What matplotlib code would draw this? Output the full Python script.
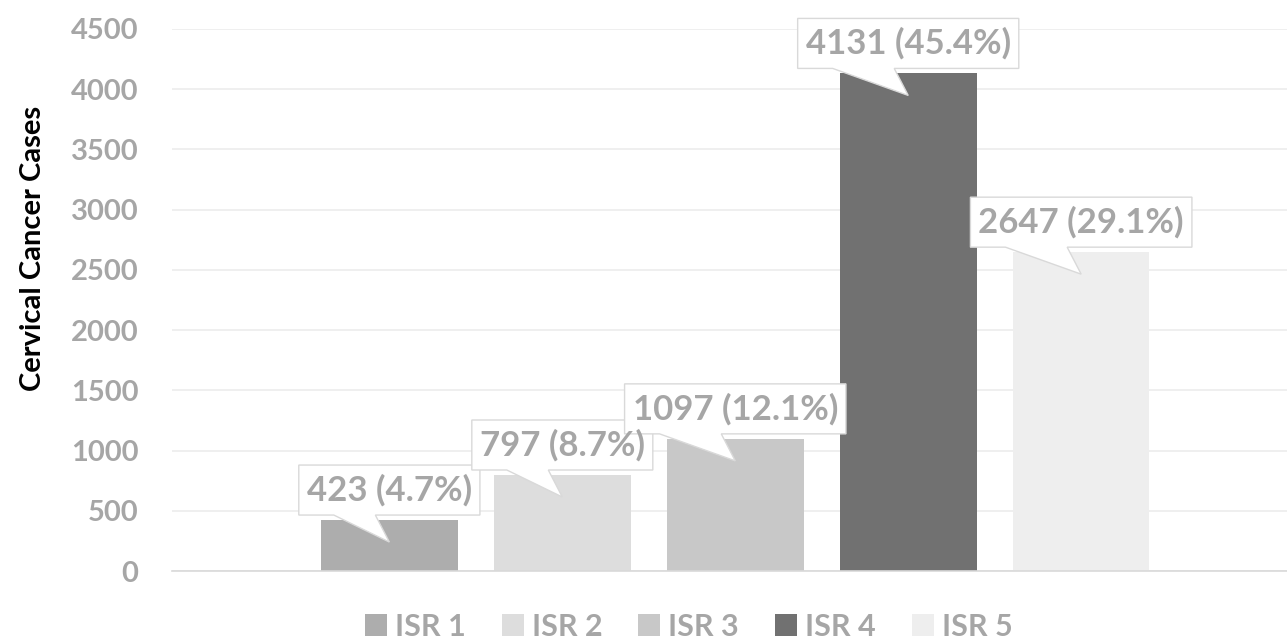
import numpy as np
import matplotlib
matplotlib.use("Agg")
import matplotlib.pyplot as plt
from matplotlib import transforms
from matplotlib.patches import Polygon

plt.rcParams["font.family"] = ["Lato", "DejaVu Sans"]
plt.rcParams["font.weight"] = "bold"

# ---- data ----
series = ["ISR 1", "ISR 2", "ISR 3", "ISR 4", "ISR 5"]
cases = [423, 797, 1097, 4131, 2647]
shares = [4.7, 8.7, 12.1, 45.4, 29.1]
colors = ["#adadad", "#dddddd", "#c8c8c8", "#717171", "#eeeeee"]
yticks = [0, 500, 1000, 1500, 2000, 2500, 3000, 3500, 4000, 4500]

GREY_TXT = "#a6a6a6"
DPI = 100

fig = plt.figure(figsize=(12.87, 6.41), dpi=DPI)
ax = fig.add_axes([0.1336, 0.1092, 0.8664, 0.8456])

x = np.arange(len(series))
for i, (s, v, c) in enumerate(zip(series, cases, colors)):
    ax.bar(x[i], v, width=0.79, color=c, label=s, zorder=3)

ax.set_xlim(-1.257, 5.19)
ax.set_ylim(0, 4500)
ax.set_yticks(yticks)
ax.set_xticks([])
ax.tick_params(axis="y", length=0, pad=24, labelsize=21, labelcolor=GREY_TXT)
for lab in ax.get_yticklabels():
    lab.set_fontweight("bold")
ax.grid(axis="y", color="#ececec", lw=1.2, zorder=0)
for sp in ["top", "right", "left"]:
    ax.spines[sp].set_visible(False)
ax.spines["bottom"].set_color("#d9d9d9")
ax.spines["bottom"].set_linewidth(1.2)
ax.spines["bottom"].set_zorder(4)
ax.set_ylabel("Cervical Cancer Cases", fontsize=21, fontweight="bold", color="black")
ax.yaxis.set_label_coords(-0.113, 0.596)

# ---- callout labels ----
fig.canvas.draw()
renderer = fig.canvas.get_renderer()
for i, (v, p) in enumerate(zip(cases, shares)):
    label = f"{v} ({p}%)"
    trans = fig.dpi_scale_trans + transforms.ScaledTranslation(x[i], v, ax.transData)
    t = ax.text(0, 30 / DPI, label, transform=trans, ha="center", va="center",
                fontsize=25, fontweight="bold", color=GREY_TXT, zorder=6, clip_on=False)
    w = t.get_window_extent(renderer).width
    hw = (w + 16) / 2
    pts = np.array([(-hw, 5), (-hw + 35, 5), (0, -22), (-14, 5),
                    (hw, 5), (hw, 55), (-hw, 55)]) / DPI
    poly = Polygon(pts, closed=True, transform=trans, facecolor="white",
                   edgecolor="#d9d9d9", lw=1.0, zorder=5, clip_on=False)
    ax.add_patch(poly)

leg = fig.legend(loc="center", bbox_to_anchor=(0.535, 0.022), ncol=5, frameon=False,
                 fontsize=22, handlelength=0.72, handleheight=0.72, handletextpad=0.26,
                 columnspacing=1.18, borderpad=0)
for txt in leg.get_texts():
    txt.set_color(GREY_TXT)
    txt.set_fontweight("bold")

fig.savefig("out.png", dpi=DPI)
